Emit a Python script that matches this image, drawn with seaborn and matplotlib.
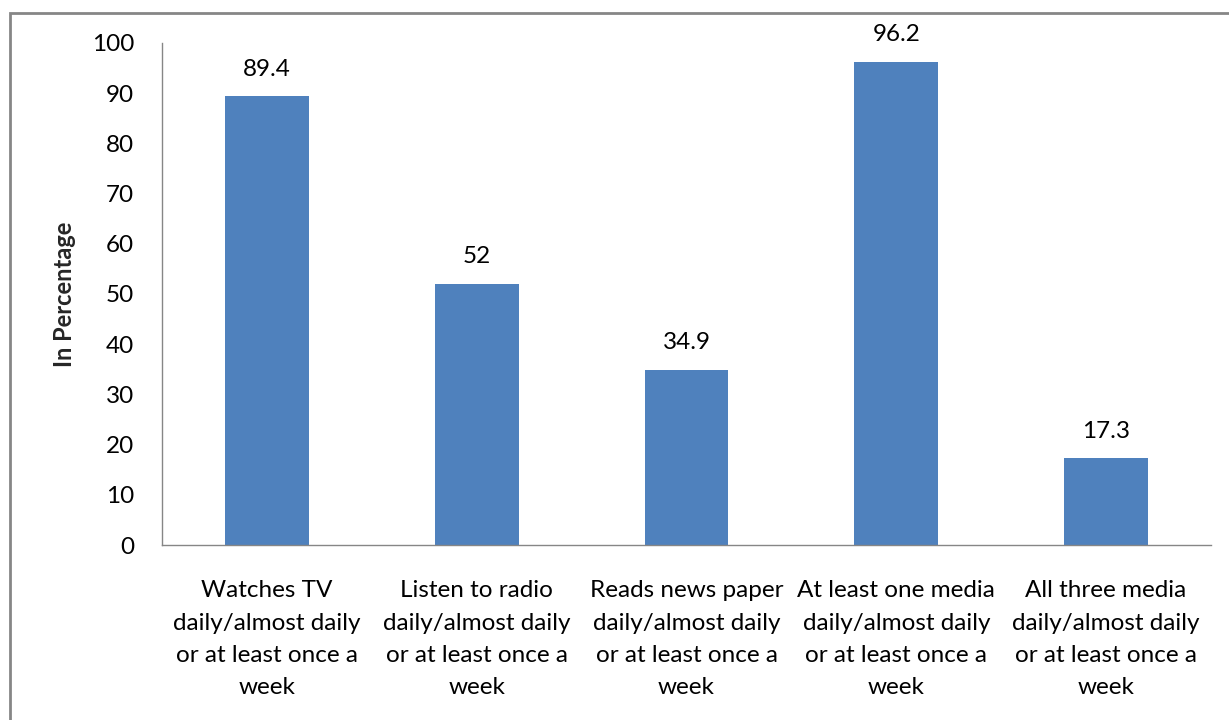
import matplotlib
matplotlib.use("Agg")
import matplotlib.pyplot as plt
import seaborn as sns
import pandas as pd
from matplotlib.patches import Rectangle

categories = [
    "Watches TV\ndaily/almost daily\nor at least once a\nweek",
    "Listen to radio\ndaily/almost daily\nor at least once a\nweek",
    "Reads news paper\ndaily/almost daily\nor at least once a\nweek",
    "At least one media\ndaily/almost daily\nor at least once a\nweek",
    "All three media\ndaily/almost daily\nor at least once a\nweek",
]
values = [89.4, 52, 34.9, 96.2, 17.3]
value_labels = ["89.4", "52", "34.9", "96.2", "17.3"]
y_ticks = [0, 10, 20, 30, 40, 50, 60, 70, 80, 90, 100]

sns.set_theme(style="white")
plt.rcParams['font.family'] = ['Lato', 'DejaVu Sans']

df = pd.DataFrame({"cat": categories, "val": values})

fig = plt.figure(figsize=(12.29, 7.2), dpi=100)
ax = fig.add_axes([162/1229, 1-545/720, (1211-162)/1229, (545-43)/720])

sns.barplot(data=df, x="cat", y="val", color="#4F81BD", width=0.4, ax=ax,
            saturation=1, edgecolor="none")

ax.set_ylim(0, 100)
ax.set_xlim(-0.5, len(categories) - 0.5)
ax.set_yticks(y_ticks)
ax.set_yticklabels([str(t) for t in y_ticks], fontsize=17.5, color="#000000")
ax.set_xticks(range(len(categories)))
ax.set_xticklabels(categories, fontsize=17.5, color="#000000", linespacing=1.66)
ax.set_xticks([i - 0.5 for i in range(len(categories) + 1)], minor=True)
ax.tick_params(axis="x", which="major", length=0, pad=25.5)
ax.tick_params(axis="x", which="minor", length=6, width=1, color="#868686", direction="out")
ax.tick_params(axis="y", which="major", length=6, width=1, color="#868686", direction="out", pad=14)
ax.set_xlabel("")
ax.set_ylabel("In Percentage", fontsize=17, fontweight="bold")
ax.yaxis.set_label_coords((76 - 162) / 1049, 0.5)

for s in ["top", "right"]:
    ax.spines[s].set_visible(False)
for s in ["left", "bottom"]:
    ax.spines[s].set_color("#868686")
    ax.spines[s].set_linewidth(1)

for i, (v, lab) in enumerate(zip(values, value_labels)):
    ax.annotate(lab, (i, v), xytext=(0, 19.5), textcoords="offset points",
                ha="center", va="center", fontsize=17.5, color="#000000")

fig.patches.append(Rectangle((10/1229, -0.1), 1.2, 1 - 13/720 + 0.1,
                             transform=fig.transFigure, fill=False,
                             edgecolor="#868686", linewidth=2))

fig.savefig("out.png", dpi=100, facecolor="white")
